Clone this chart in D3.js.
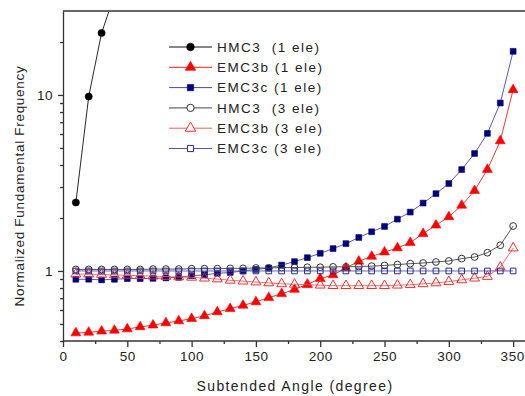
<!DOCTYPE html>
<html>
<head>
<meta charset="utf-8">
<script src="https://cdn.jsdelivr.net/npm/d3@7"></script>
<style>
  html, body { margin: 0; padding: 0; background: #fff; }
  svg { display: block; font-family: Arial, "Liberation Sans", sans-serif; }
</style>
</head>
<body>
<svg id="chart" width="525" height="396"></svg>
<script>
// Subtended angle (degree) for every series
const angles = [10,20,30,40,50,60,70,80,90,100,110,120,130,140,150,160,170,180,190,200,
                210,220,230,240,250,260,270,280,290,300,310,320,330,340,350];

// Normalized fundamental frequency, one array per element model
const hmc3One = [2.45, 9.8, 22.5, 37];
const emc3bOne = [0.444,0.448,0.455,0.46,0.468,0.481,0.492,0.507,0.52,0.536,0.556,0.585,0.61,0.638,0.667,
                  0.706,0.742,0.785,0.84,0.905,0.95,1.04,1.135,1.21,1.28,1.35,1.45,1.63,1.82,2.03,
                  2.36,2.86,3.77,5.48,10.7];
const emc3cOne = [0.897,0.897,0.89,0.897,0.905,0.905,0.908,0.913,0.92,0.94,0.95,0.97,0.98,1.0,1.02,
                  1.04,1.08,1.13,1.19,1.26,1.34,1.43,1.55,1.67,1.79,1.97,2.16,2.43,2.75,3.14,
                  3.77,4.65,6.05,9.0,17.7];
const hmc3Three = [1.02,1.02,1.02,1.02,1.02,1.02,1.025,1.025,1.025,1.03,1.03,1.03,1.035,1.035,1.04,
                   1.04,1.045,1.045,1.05,1.05,1.055,1.055,1.06,1.065,1.075,1.087,1.1,1.11,1.125,1.14,
                   1.175,1.2,1.27,1.4,1.8];
const emc3bThree = [0.96,0.96,0.955,0.95,0.945,0.94,0.935,0.93,0.925,0.92,0.91,0.9,0.885,0.875,0.865,
                    0.855,0.845,0.84,0.835,0.83,0.825,0.825,0.825,0.825,0.825,0.83,0.835,0.845,0.855,0.87,
                    0.89,0.91,0.93,1.05,1.35];
const emc3cThree = [1.0,1.0,1.0,1.0,1.0,1.0,1.0,1.0,1.0,1.0,1.0,1.0,1.0,1.0,1.0,
                    1.0,1.0,1.0,1.0,1.0,1.0,1.0,1.0,1.0,1.0,1.0,1.0,1.0,1.0,1.0,
                    1.0,1.0,1.0,1.0,1.0];

const seriesNames = ["HMC3  (1 ele)", "EMC3b (1 ele)", "EMC3c (1 ele)",
                     "HMC3  (3 ele)", "EMC3b (3 ele)", "EMC3c (3 ele)"];

const xTicks = [0,50,100,150,200,250,300,350];
const xMinorTicks = [25,75,125,175,225,275,325];
const yTicks = [1,10];
const yMinorTicks = [0.4,0.5,0.6,0.7,0.8,0.9,2,3,4,5,6,7,8,9,20];

const xTitle = "Subtended Angle (degree)";
const yTitle = "Normalized Fundamental Frequency";

// Drawing styles for each series
const styles = [
  { values: hmc3One,    symbol: d3.symbolCircle,   size: 40, line: "#111",    stroke: "#000",    fill: "#000" },
  { values: emc3bOne,   symbol: d3.symbolTriangle, size: 42, line: "#ee2020", stroke: "#f00",    fill: "#f00" },
  { values: emc3cOne,   symbol: d3.symbolSquare,   size: 34, line: "#4a4a9a", stroke: "#00007a", fill: "#00007a" },
  { values: hmc3Three,  symbol: d3.symbolCircle,   size: 36, line: "#444",    stroke: "#333",    fill: "none" },
  { values: emc3bThree, symbol: d3.symbolTriangle, size: 42, line: "#f06060", stroke: "#f03030", fill: "none" },
  { values: emc3cThree, symbol: d3.symbolSquare,   size: 32, line: "#5555aa", stroke: "#2a2a8a", fill: "none" }
];

const svg = d3.select("#chart");
const plotLeft = 63, plotTop = 11, plotBottom = 341, plotRight = 526;

const x = d3.scaleLinear().domain([0, 360]).range([plotLeft, plotRight]);
const y = d3.scaleLog().domain([0.4, 30]).range([plotBottom, plotTop]);

svg.append("defs").append("clipPath").attr("id", "plotClip")
  .append("rect").attr("x", plotLeft).attr("y", plotTop)
  .attr("width", plotRight - plotLeft).attr("height", plotBottom - plotTop);

const plot = svg.append("g").attr("clip-path", "url(#plotClip)");

styles.forEach(s => {
  const pts = s.values.map((v, i) => [angles[i], v]);
  plot.append("path")
    .datum(pts)
    .attr("fill", "none")
    .attr("stroke", s.line)
    .attr("stroke-width", 0.9)
    .attr("d", d3.line().x(d => x(d[0])).y(d => y(d[1])));
  plot.selectAll(null)
    .data(pts)
    .join("path")
    .attr("transform", d => `translate(${x(d[0])},${y(d[1])})`)
    .attr("d", d3.symbol().type(s.symbol).size(s.size))
    .attr("fill", s.fill)
    .attr("stroke", s.stroke)
    .attr("stroke-width", s.fill === "none" ? 1 : 0.6);
});

// Top frame line
svg.append("line")
  .attr("x1", plotLeft).attr("x2", 525).attr("y1", plotTop).attr("y2", plotTop)
  .attr("stroke", "#666").attr("stroke-width", 2);

// Bottom axis
const xAxis = svg.append("g").attr("transform", `translate(0,${plotBottom})`)
  .call(d3.axisBottom(x).tickValues(xTicks).tickSize(6).tickSizeOuter(0).tickPadding(4).tickFormat(d3.format("d")));
svg.append("g").attr("transform", `translate(0,${plotBottom})`)
  .call(d3.axisBottom(x).tickValues(xMinorTicks).tickSize(3).tickSizeOuter(0).tickFormat(""))
  .select(".domain").remove();
xAxis.select(".domain").attr("d", `M${plotLeft},0H525`);

// Left axis
svg.append("g").attr("transform", `translate(${plotLeft},0)`)
  .call(d3.axisLeft(y).tickValues(yTicks).tickSize(5).tickSizeOuter(0).tickPadding(5).tickFormat(d3.format("d")));
svg.append("g").attr("transform", `translate(${plotLeft},0)`)
  .call(d3.axisLeft(y).tickValues(yMinorTicks).tickSize(3).tickSizeOuter(0).tickFormat(""))
  .select(".domain").remove();

svg.selectAll(".domain, .tick line").attr("stroke", "#333").attr("stroke-width", 1.3);
svg.selectAll(".tick text")
  .attr("fill", "#222")
  .style("font-size", "13.5px")
  .style("letter-spacing", "0.5px");
// keep the last x label inside the page edge
xAxis.selectAll(".tick text").filter(d => d === 350).attr("dx", "-1");

// Axis titles
svg.append("text")
  .attr("x", 295).attr("y", 391)
  .attr("text-anchor", "middle")
  .attr("fill", "#222")
  .style("font-size", "14px")
  .style("letter-spacing", "1.4px")
  .text(xTitle);

svg.append("text")
  .attr("transform", "translate(24,186) rotate(-90)")
  .attr("text-anchor", "middle")
  .attr("fill", "#222")
  .style("font-size", "13.5px")
  .style("letter-spacing", "0.7px")
  .text(yTitle);

// Legend
const legend = svg.append("g");
styles.forEach((s, i) => {
  const ly = 47 + i * 20.3;
  legend.append("line")
    .attr("x1", 169).attr("x2", 212).attr("y1", ly).attr("y2", ly)
    .attr("stroke", s.line).attr("stroke-width", 1);
  legend.append("path")
    .attr("transform", `translate(190.5,${ly})`)
    .attr("d", d3.symbol().type(s.symbol).size(s.size + 6))
    .attr("fill", s.fill === "none" ? "#fff" : s.fill)
    .attr("stroke", s.stroke)
    .attr("stroke-width", s.fill === "none" ? 1 : 0.6);
  legend.append("text")
    .attr("x", 217).attr("y", ly)
    .attr("dy", "0.36em")
    .attr("fill", "#222")
    .style("font-size", "13.5px")
    .style("letter-spacing", "1.5px")
    .style("white-space", "pre")
    .text(seriesNames[i]);
});
</script>
</body>
</html>
